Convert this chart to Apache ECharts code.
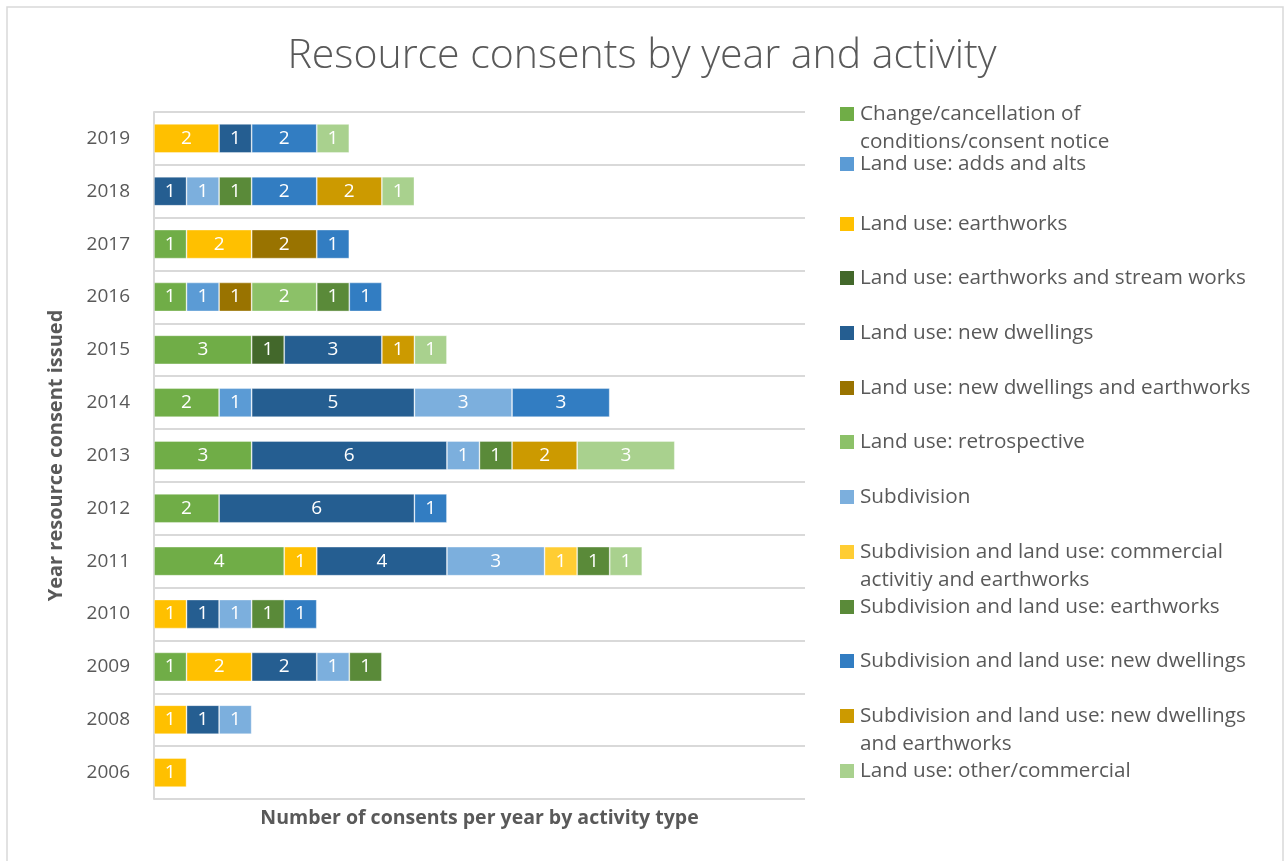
<!DOCTYPE html>
<html>
<head>
<meta charset="utf-8">
<script src="https://cdn.jsdelivr.net/npm/echarts@6/dist/echarts.min.js"></script>
<style>
html,body{margin:0;padding:0;background:#fff;}
#chart{width:1284px;height:861px;}
</style>
</head>
<body>
<div id="chart"></div>
<script>
// ---- DATA ----
const years = ['2006','2008','2009','2010','2011','2012','2013','2014','2015','2016','2017','2018','2019'];

const changeCancellation   = [null,null,1,null,4,2,3,2,3,1,1,null,null];
const addsAndAlts          = [null,null,null,null,null,null,null,1,null,1,null,null,null];
const earthworks           = [1,1,2,1,1,null,null,null,null,null,2,null,2];
const earthworksStream     = [null,null,null,null,null,null,null,null,1,null,null,null,null];
const newDwellings         = [null,1,2,1,4,6,6,5,3,null,null,1,1];
const newDwellingsEarth    = [null,null,null,null,null,null,null,null,null,1,2,null,null];
const retrospective        = [null,null,null,null,null,null,null,null,null,2,null,null,null];
const subdivision          = [null,1,1,1,3,null,1,3,null,null,null,1,null];
const subCommercial        = [null,null,null,null,1,null,null,null,null,null,null,null,null];
const subEarthworks        = [null,null,1,1,1,null,1,null,null,1,null,1,null];
const subNewDwellings      = [null,null,null,1,null,1,null,3,null,1,1,2,2];
const subNewDwellingsEarth = [null,null,null,null,null,null,2,null,1,null,null,2,null];
const otherCommercial      = [null,null,null,null,1,null,3,null,1,null,null,1,1];

const seriesNames = [
  'Change/cancellation of conditions/consent notice',
  'Land use: adds and alts',
  'Land use: earthworks',
  'Land use: earthworks and stream works',
  'Land use: new dwellings',
  'Land use: new dwellings and earthworks',
  'Land use: retrospective',
  'Subdivision',
  'Subdivision and land use: commercial activitiy and earthworks',
  'Subdivision and land use: earthworks',
  'Subdivision and land use: new dwellings',
  'Subdivision and land use: new dwellings and earthworks',
  'Land use: other/commercial'
];
const seriesValues = [changeCancellation, addsAndAlts, earthworks, earthworksStream, newDwellings,
  newDwellingsEarth, retrospective, subdivision, subCommercial, subEarthworks, subNewDwellings,
  subNewDwellingsEarth, otherCommercial];

// ---- STYLE / LAYOUT ----
const colors = ['#70AD47','#5B9BD5','#FFC000','#43682B','#255E91','#997300','#8CC168',
  '#7CAFDD','#FFCD33','#5A8A39','#327DC2','#CC9A00','#A9D18E'];
const legendLabels = {
  'Change/cancellation of conditions/consent notice': 'Change/cancellation of\nconditions/consent notice',
  'Subdivision and land use: commercial activitiy and earthworks': 'Subdivision and land use: commercial\nactivitiy and earthworks',
  'Subdivision and land use: new dwellings and earthworks': 'Subdivision and land use: new dwellings\nand earthworks'
};
const legendCenters = [114,164,224,278,333,388,442,497,552,607,661,716,771];
const FONT = 'Open Sans';
const GREY = '#595959';

const chart = echarts.init(document.getElementById('chart'), null, {renderer:'canvas'});

const legends = seriesNames.map((name, i) => {
  const wrapped = legendLabels[name] !== undefined;
  return {
    data: [name],
    orient: 'vertical',
    left: 840,
    top: legendCenters[i] - (wrapped ? 42 : 14),
    padding: 0,
    itemWidth: 14,
    itemHeight: 14,
    icon: 'rect',
    itemStyle: {borderWidth: 0},
    // wrapped labels get a leading empty line so the first text line sits level with the icon
    formatter: n => (legendLabels[n] ? '\n' + legendLabels[n] : n),
    textStyle: {fontFamily: FONT, fontSize: 20.7, color: GREY, lineHeight: 28, padding: [0,0,0,1]}
  };
});

const series = seriesNames.map((name, i) => ({
  name: name,
  type: 'bar',
  stack: 'total',
  barWidth: 29,
  data: seriesValues[i],
  itemStyle: {color: colors[i], borderColor: 'rgba(255,255,255,0.45)', borderWidth: 0.8},
  label: {
    show: true,
    position: 'inside',
    color: '#ffffff',
    fontFamily: FONT,
    fontSize: 19,
    formatter: p => (p.value ? String(p.value) : '')
  },
  emphasis: {disabled: true}
}));

chart.setOption({
  animation: false,
  backgroundColor: '#ffffff',
  title: {
    text: 'Resource consents by year and activity',
    left: 'center',
    top: 31,
    textStyle: {fontFamily: FONT, fontSize: 41, fontWeight: 300, color: GREY}
  },
  graphic: [{
    type: 'rect',
    shape: {x: 7, y: 7, width: 1276, height: 900},
    style: {fill: 'none', stroke: '#d9d9d9', lineWidth: 1.5},
    silent: true
  }],
  legend: legends,
  grid: {left: 154, top: 112, right: 479, bottom: 62, containLabel: false},
  xAxis: {
    type: 'value',
    min: 0, max: 20, interval: 2,
    axisLabel: {show: false},
    axisLine: {show: false},
    axisTick: {show: false},
    splitLine: {show: false},
    name: 'Number of consents per year by activity type',
    nameLocation: 'middle',
    nameGap: 9,
    nameTextStyle: {fontFamily: FONT, fontSize: 19.5, fontWeight: 'bold', color: GREY}
  },
  yAxis: {
    type: 'category',
    data: years,
    axisLine: {show: true, lineStyle: {color: '#d9d9d9', width: 2}},
    axisTick: {show: false},
    axisLabel: {fontFamily: FONT, fontSize: 19, color: GREY, margin: 24},
    splitLine: {show: true, lineStyle: {color: '#d9d9d9', width: 2}},
    name: 'Year resource consent issued',
    nameLocation: 'middle',
    nameRotate: 90,
    nameGap: 88,
    nameTextStyle: {fontFamily: FONT, fontSize: 20, fontWeight: 'bold', color: GREY}
  },
  series: series
});
</script>
</body>
</html>
